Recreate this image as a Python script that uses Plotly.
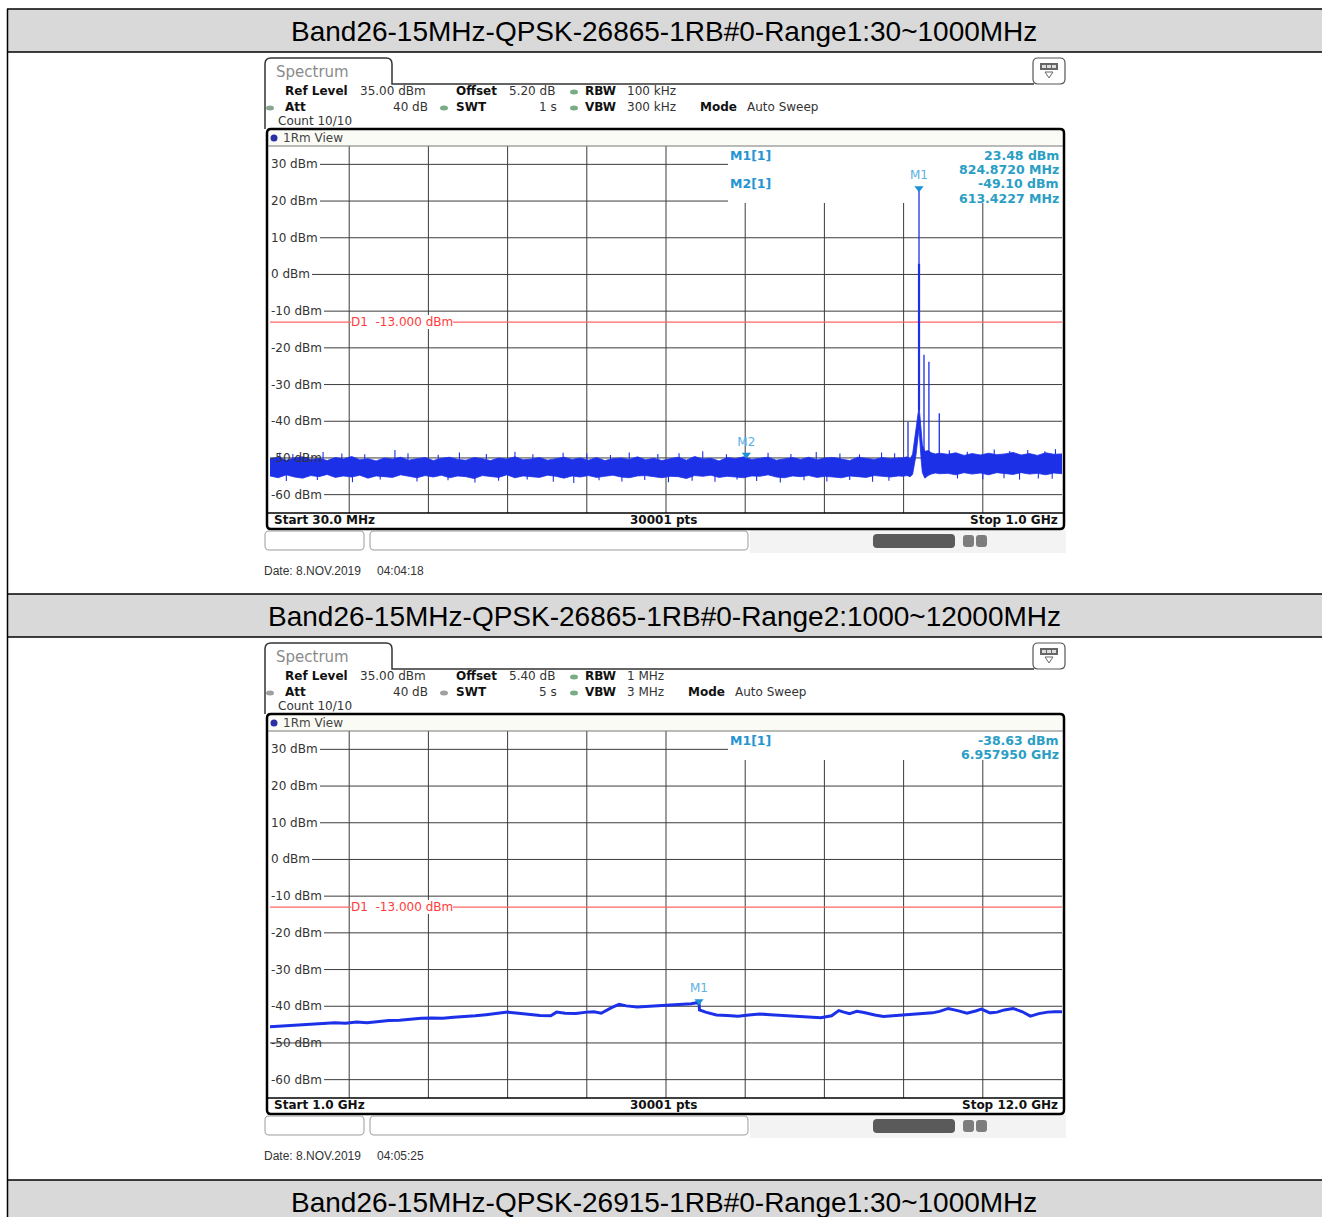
import plotly.graph_objects as go

W, H = 1322, 1217

# ---------------- data ----------------
section_titles = [
    "Band26-15MHz-QPSK-26865-1RB#0-Range1:30~1000MHz",
    "Band26-15MHz-QPSK-26865-1RB#0-Range2:1000~12000MHz",
    "Band26-15MHz-QPSK-26915-1RB#0-Range1:30~1000MHz",
]
level_ticks = [30, 20, 10, 0, -10, -20, -30, -40, -50, -60]
level_tick_text = [f"{v} dBm" for v in level_ticks]
level_range = [-65, 35]
limit_level = -13.0
limit_label = "D1\u00a0\u00a0-13.000 dBm"

# Range 1: 30 MHz .. 1 GHz (MHz)
r1_span = [30, 1000]
r1_grid = [127, 224, 321, 418, 515, 612, 709, 806, 903]
noise1_f = (list(range(30, 801, 10))
            + [805, 810, 814, 817, 819, 821, 822.5, 823.8, 824.9, 826, 827.5, 829, 832, 836, 840, 845, 850]
            + list(range(860, 1001, 10)))
noise1_hi = [
    -50.2, -49.8, -50.6, -50.0, -49.7, -50.4, -50.1, -50.7, -49.9, -50.3,
    -49.6, -50.5, -50.2, -50.8, -50.0, -50.3, -49.8, -50.6, -50.2, -49.9,
    -50.7, -50.1, -49.8, -50.4, -50.6, -49.9, -50.2, -50.7, -50.0, -50.3,
    -49.7, -50.5, -50.3, -49.9, -50.6, -50.1, -49.8, -50.4, -50.0, -50.6,
    -49.9, -50.7, -50.2, -50.0, -50.4, -49.7, -50.5, -50.1, -50.7, -50.2,
    -49.8, -50.6, -49.6, -50.3, -50.1, -50.8, -49.9, -50.2, -49.7, -50.4,
    -50.1, -49.8, -50.6, -50.2, -49.9, -50.4, -49.8, -50.5, -50.0, -49.9,
    -50.3, -50.7, -49.8, -50.1, -50.4, -49.9, -50.2, -50.0,
    -50.0, -49.7, -50.2, -49.0, -45.5, -42.0, -39.5, -37.0, -36.0, -38.5,
    -43.0, -46.5, -48.2, -48.0, -48.6, -48.9, -48.7,
    -49.0, -48.6, -49.3, -48.8, -49.2, -48.7, -49.1, -48.9, -48.5, -49.2,
    -48.8, -49.3, -48.6, -49.0, -48.9,
]
noise1_lo = [
    -54.9, -55.4, -54.6, -55.2, -55.5, -54.8, -55.1, -54.5, -55.3, -54.9,
    -55.2, -54.7, -55.5, -54.9, -55.1, -55.3, -54.6, -55.0, -55.4, -54.8,
    -55.2, -54.7, -55.4, -54.9, -55.1, -55.6, -54.8, -55.0, -55.3, -54.6,
    -55.4, -54.9, -55.2, -55.3, -54.7, -55.0, -55.5, -54.9, -55.2, -54.8,
    -55.3, -55.0, -54.7, -55.2, -55.4, -54.9, -54.8, -55.1, -55.4, -55.0,
    -55.1, -55.6, -54.8, -55.0, -54.7, -55.3, -55.0, -55.2, -55.4, -54.9,
    -55.0, -54.6, -55.2, -55.4, -54.9, -55.1, -54.8, -55.3, -55.0, -55.2,
    -55.4, -54.9, -55.1, -55.3, -54.8, -55.0, -55.2, -54.9,
    -55.0, -54.8, -55.1, -54.5, -52.0, -49.5, -47.0, -44.0, -42.0, -46.0,
    -50.5, -54.0, -55.5, -54.8, -54.4, -54.1, -54.3,
    -54.2, -54.6, -54.0, -54.4, -54.1, -54.6, -54.0, -54.3, -54.5, -54.0,
    -54.4, -54.2, -54.6, -54.1, -54.3,
]
# noise peaks sticking out of the band
whisk_up_f = [42, 58, 77, 95, 118, 146, 183, 199, 236, 262, 295, 330, 352, 389, 418, 447, 470, 505,
              531, 560, 589, 613.4, 640, 668, 699, 728, 752, 779, 795, 862, 884, 917, 936, 958, 979, 992]
whisk_up_top = [-48.6, -48.9, -49.2, -48.4, -48.8, -49.0, -47.8, -48.7, -49.1, -48.5, -48.9, -48.3,
                -49.0, -48.6, -48.8, -49.2, -48.5, -48.9, -48.7, -48.2, -49.0, -49.1, -48.6, -48.9,
                -48.4, -48.8, -49.0, -48.5, -48.7, -47.9, -48.3, -47.7, -48.1, -47.8, -48.2, -47.6]
whisk_dn_f = [50, 88, 131, 165, 210, 248, 281, 310, 345, 377, 402, 433, 461, 489, 518, 547, 575, 602,
              626, 655, 684, 712, 740, 768, 788, 872, 903, 929, 948, 971, 988]
whisk_dn_bot = [-56.3, -56.0, -56.6, -55.9, -56.4, -56.1, -56.7, -56.2, -55.9, -56.5, -56.8, -56.1,
                -56.4, -56.0, -56.6, -56.2, -56.5, -55.9, -56.3, -56.7, -56.1, -56.4, -56.0, -56.5,
                -56.2, -55.6, -55.8, -55.5, -55.9, -55.6, -55.7]
spur1_f = [811.4, 831.0, 837.0, 849.7]
spur1_top = [-40.2, -21.9, -23.8, -37.8]
spur1_base = -50.5
carrier1_f = 824.872
carrier1_base = -37.0
carrier1_shoulder = 3.0
carrier1_peak = 23.48
marker1_f = [824.872, 613.4227]
marker1_lvl = [23.48, -49.10]
marker1_name = ["M1", "M2"]
marker1_info = [("M1[1]", "23.48 dBm", "824.8720 MHz"), ("M2[1]", "-49.10 dBm", "613.4227 MHz")]

# Range 2: 1 GHz .. 12 GHz (GHz)
r2_span = [1, 12]
r2_grid = [2.1, 3.2, 4.3, 5.4, 6.5, 7.6, 8.7, 9.8, 10.9]
trace2_f = [1.00, 1.15, 1.30, 1.45, 1.60, 1.75, 1.90, 2.05, 2.20, 2.35, 2.50, 2.65, 2.80, 2.95,
            3.10, 3.25, 3.40, 3.55, 3.70, 3.85, 4.00, 4.15, 4.30, 4.45, 4.60, 4.75, 4.90, 4.98,
            5.10, 5.25, 5.40, 5.50, 5.60, 5.75, 5.85, 5.95, 6.10, 6.25, 6.40, 6.55, 6.70, 6.85,
            6.958, 6.965, 7.05, 7.20, 7.35, 7.50, 7.65, 7.80, 7.95, 8.10, 8.25, 8.40, 8.55, 8.65,
            8.80, 8.90, 8.97, 9.05, 9.15, 9.25, 9.40, 9.52, 9.65, 9.80, 9.95, 10.10, 10.20, 10.30,
            10.42, 10.55, 10.68, 10.80, 10.88, 11.00, 11.10, 11.20, 11.32, 11.45, 11.56, 11.68,
            11.80, 11.90, 12.00]
trace2_lvl = [-45.6, -45.4, -45.3, -45.0, -44.7, -44.6, -44.5, -44.6, -44.3, -44.5, -44.2, -43.9, -43.8, -43.5,
              -43.3, -43.2, -43.3, -43.0, -42.9, -42.6, -42.3, -42.0, -41.6, -41.9, -42.3, -42.5, -42.6, -41.6,
              -41.9, -42.0, -41.6, -41.5, -41.9, -40.3, -39.5, -39.9, -40.2, -40.0, -39.9, -39.7, -39.5, -39.3,
              -38.9, -41.0, -41.6, -42.4, -42.5, -42.7, -42.4, -42.1, -42.3, -42.5, -42.6, -42.8, -43.0, -43.1,
              -42.6, -41.2, -41.6, -42.0, -41.4, -41.7, -42.4, -42.8, -42.6, -42.4, -42.3, -42.0, -41.8, -41.4,
              -40.6, -41.2, -41.9, -41.3, -40.8, -41.8, -41.6, -41.0, -40.6, -41.5, -42.7, -42.0,
              -41.6, -41.5, -41.5]
marker2_f = [6.95795]
marker2_lvl = [-38.63]
marker2_name = ["M1"]
marker2_info = [("M1[1]", "-38.63 dBm", "6.957950 GHz")]

settings = [
    dict(offset="5.20 dB", rbw="100 kHz", swt="1 s", vbw="300 kHz", mode_x=700,
         start="Start 30.0 MHz", stop="Stop 1.0 GHz", date="Date: 8.NOV.2019", time="04:04:18"),
    dict(offset="5.40 dB", rbw="1 MHz", swt="5 s", vbw="3 MHz", mode_x=688,
         start="Start 1.0 GHz", stop="Stop 12.0 GHz", date="Date: 8.NOV.2019", time="04:05:25"),
]

# ---------------- helpers ----------------
def X(p):
    return p / W


def Y(p):
    return 1 - p / H


shapes = []
annotations = []
TRACE_BLUE = "rgb(28,48,232)"
MK_BLUE = "#1d8fd6"
INFO_LBL = "#2594d2"
INFO_VAL = "#2a9ec4"
GRID = "#3c3c3c"
SANS = "DejaVu Sans"
PLOT_L, PLOT_R = 270, 1062
BOX_L = 728


def hline(x0, x1, y, color, width, layer="above"):
    shapes.append(dict(type="line", xref="paper", yref="paper", x0=X(x0), x1=X(x1), y0=Y(y), y1=Y(y),
                       line=dict(color=color, width=width), layer=layer))


def vline(x, y0, y1, color, width, layer="above"):
    shapes.append(dict(type="line", xref="paper", yref="paper", x0=X(x), x1=X(x), y0=Y(y0), y1=Y(y1),
                       line=dict(color=color, width=width), layer=layer))


def rect(x0, y0, x1, y1, fill, layer="above", lc="rgba(0,0,0,0)", lw=0, opacity=1):
    shapes.append(dict(type="rect", xref="paper", yref="paper", x0=X(x0), x1=X(x1), y0=Y(y1), y1=Y(y0),
                       fillcolor=fill, line=dict(color=lc, width=lw), layer=layer, opacity=opacity))


def rrect(x0, y0, x1, y1, r, lc="#000", lw=1, fill="rgba(0,0,0,0)", layer="above", opacity=1):
    def p(x, y):
        return f"{X(x):.6f},{Y(y):.6f}"
    path = (f"M {p(x0 + r, y0)} L {p(x1 - r, y0)} Q {p(x1, y0)} {p(x1, y0 + r)} "
            f"L {p(x1, y1 - r)} Q {p(x1, y1)} {p(x1 - r, y1)} L {p(x0 + r, y1)} "
            f"Q {p(x0, y1)} {p(x0, y1 - r)} L {p(x0, y0 + r)} Q {p(x0, y0)} {p(x0 + r, y0)} Z")
    shapes.append(dict(type="path", xref="paper", yref="paper", path=path, fillcolor=fill,
                       line=dict(color=lc, width=lw), layer=layer, opacity=opacity))


def dot(cx, cy, rx, ry, color):
    shapes.append(dict(type="circle", xref="paper", yref="paper", x0=X(cx - rx), x1=X(cx + rx),
                       y0=Y(cy + ry), y1=Y(cy - ry), fillcolor=color, line=dict(width=0)))


def text(x, y, s, size=12, color="#333", family=SANS, xanchor="left", bold=False, **kw):
    annotations.append(dict(xref="paper", yref="paper", x=X(x), y=Y(y),
                            text=f"<b>{s}</b>" if bold else s, showarrow=False,
                            xanchor=xanchor, yanchor="middle", borderpad=0, borderwidth=0,
                            font=dict(size=size, color=color, family=family), **kw))


# ---------------- document table ----------------
for top, bot in [(9, 52), (594, 637), (1180, 1230)]:
    rect(8, top, 1322, bot, "#d9d9d9", layer="below")
for yy in [9, 52, 594, 637, 1180]:
    hline(7, 1322, yy, "#000", 1.5)
vline(7.5, 9, 1217, "#000", 1.5)
for yy, t in zip([31, 616, 1202], section_titles):
    text(664, yy, t, size=28, color="#000", family="Liberation Sans", xanchor="center")


# ---------------- analyzer panels ----------------
def panel(dy, xref, yref, st, minfo, box_bottom, grid, span):
    top_px, bot_px = 146 + dy, 513 + dy

    def p(x, y):
        return f"{X(x):.6f},{Y(y + dy):.6f}"
    path = (f"M {p(265, 129)} L {p(265, 64)} Q {p(265, 58)} {p(271, 58)} L {p(386, 58)} "
            f"Q {p(392, 58)} {p(392, 64)} L {p(392, 84)} L {p(1034, 84)}")
    shapes.append(dict(type="path", xref="paper", yref="paper", path=path,
                       line=dict(color="#333", width=1.5), fillcolor="rgba(0,0,0,0)"))
    text(276, 72 + dy, "Spectrum", size=15, color="#8a8a8a")
    # icon
    rrect(1033, 58 + dy, 1065, 84 + dy, 5, lc="#555", lw=1.2, fill="white")
    rect(1040, 63 + dy, 1058, 70 + dy, "#666")
    rect(1042, 65 + dy, 1046, 68 + dy, "#ddd")
    rect(1047, 65 + dy, 1051, 68 + dy, "#ddd")
    rect(1052, 65 + dy, 1056, 68 + dy, "#ddd")
    shapes.append(dict(type="path", xref="paper", yref="paper",
                       path=f"M {p(1045, 72)} L {p(1053, 72)} L {p(1049, 78)} Z",
                       line=dict(color="#666", width=1), fillcolor="white"))

    # settings lines
    fs = 12
    text(285, 91 + dy, "Ref Level", fs, "#111", bold=True)
    text(360, 91 + dy, "35.00 dBm", fs)
    text(456, 91 + dy, "Offset", fs, "#111", bold=True)
    text(509, 91 + dy, st["offset"], fs)
    dot(574, 92 + dy, 4, 2.5, "#7bab84")
    text(585, 91 + dy, "RBW", fs, "#111", bold=True)
    text(627, 91 + dy, st["rbw"], fs)
    dot(270, 108 + dy, 4, 2.5, "#8aa690" if dy == 0 else "#a0a0a0")
    text(285, 107 + dy, "Att", fs, "#111", bold=True)
    text(428, 107 + dy, "40 dB", fs, xanchor="right")
    dot(444, 108 + dy, 4, 2.5, "#7bab84" if dy == 0 else "#a0a0a0")
    text(456, 107 + dy, "SWT", fs, "#111", bold=True)
    text(557, 107 + dy, st["swt"], fs, xanchor="right")
    dot(574, 108 + dy, 4, 2.5, "#7bab84")
    text(585, 107 + dy, "VBW", fs, "#111", bold=True)
    text(627, 107 + dy, st["vbw"], fs)
    text(st["mode_x"], 107 + dy, "Mode", fs, "#111", bold=True)
    text(st["mode_x"] + 47, 107 + dy, "Auto Sweep", fs)
    text(278, 121 + dy, "Count 10/10", fs)

    # window frame
    rect(268, 130 + dy, 1063, 146 + dy, "#fbfbf6", layer="below")
    rrect(267, 129 + dy, 1064, 529 + dy, 4, lc="#000", lw=2.5)
    hline(268, 1063, 146 + dy, "#777", 1)
    hline(268, 1063, 513 + dy, "#000", 1.5)
    dot(274, 138 + dy, 3.5, 3.5, "#2b2fa6")
    text(283, 138 + dy, "1Rm View", 12, "#444")
    text(274, 520 + dy, st["start"], 12, "#111", bold=True)
    text(663, 520 + dy, "30001 pts", 12, "#111", bold=True, xanchor="center")
    text(1058, 520 + dy, st["stop"], 12, "#111", bold=True, xanchor="right")

    # grid (drawn below traces, leaving the marker readout area clear)
    box_xfrac = (BOX_L - PLOT_L) / (PLOT_R - PLOT_L)
    box_yfrac = (bot_px - (box_bottom + dy)) / (bot_px - top_px)
    box_xval = span[0] + box_xfrac * (span[1] - span[0])
    box_level = level_range[0] + box_yfrac * (level_range[1] - level_range[0])
    for g in grid:
        shapes.append(dict(type="line", xref=xref, yref=f"{yref} domain", x0=g, x1=g, y0=0,
                           y1=box_yfrac if g > box_xval else 1.0,
                           line=dict(color=GRID, width=1), layer="below"))
    for v in level_ticks:
        shapes.append(dict(type="line", xref=f"{xref} domain", yref=yref, x0=0,
                           x1=box_xfrac if v > box_level else 1.0, y0=v, y1=v,
                           line=dict(color=GRID, width=1), layer="below"))
    # limit line
    shapes.append(dict(type="line", xref=f"{xref} domain", yref=yref, x0=0, x1=1,
                       y0=limit_level, y1=limit_level, line=dict(color="#ff6464", width=1.2),
                       layer="below"))
    annotations.append(dict(xref=f"{xref} domain", yref=yref, x=0.1, y=limit_level, text=limit_label,
                            showarrow=False, xanchor="left", yanchor="middle", borderpad=0,
                            borderwidth=0, xshift=2, bgcolor="white",
                            font=dict(size=12, color="#ff3b3b", family=SANS)))

    for i, (lbl, lvl, frq) in enumerate(minfo):
        yy = 155 + dy + 29 * i
        text(730, yy, lbl, 12.5, INFO_LBL, bold=True)
        text(1059, yy, lvl, 12.5, INFO_VAL, bold=True, xanchor="right")
        text(1059, yy + 14, frq, 12.5, INFO_VAL, bold=True, xanchor="right")

    # status bar
    rrect(265, 531 + dy, 364, 550 + dy, 4, lc="#9a9a9a", lw=1)
    rrect(370, 531 + dy, 748, 550 + dy, 4, lc="#9a9a9a", lw=1)
    rect(750, 530 + dy, 1066, 553 + dy, "#f3f3f3", layer="below")
    rrect(873, 534 + dy, 955, 548 + dy, 4, lc="rgba(0,0,0,0)", lw=0, fill="#3e3e3e", opacity=0.85)
    rrect(963, 535 + dy, 974, 547 + dy, 3, lc="rgba(0,0,0,0)", lw=0, fill="#555", opacity=0.75)
    rrect(976, 535 + dy, 987, 547 + dy, 3, lc="rgba(0,0,0,0)", lw=0, fill="#555", opacity=0.75)
    text(264, 571 + dy, st["date"], 12, "#333", family="Liberation Sans")
    text(377, 571 + dy, st["time"], 12, "#333", family="Liberation Sans")

    # level labels on the left of the grid
    for v, t in zip(level_ticks, level_tick_text):
        annotations.append(dict(xref=f"{xref} domain", yref=yref, x=0, y=v, text=t, showarrow=False,
                                xanchor="left", yanchor="middle", borderpad=2, borderwidth=0, xshift=-1,
                                bgcolor="white" if v != -50 else "rgba(0,0,0,0)",
                                font=dict(size=12, color="#333", family=SANS)))


panel(0, "x", "y", settings[0], marker1_info, 203, r1_grid, r1_span)
panel(585, "x2", "y2", settings[1], marker2_info, 175, r2_grid, r2_span)

# ---------------- traces ----------------
fig = go.Figure()

# range 1 noise band
fig.add_trace(go.Scatter(x=noise1_f + noise1_f[::-1], y=noise1_hi + noise1_lo[::-1],
                         fill="toself", fillcolor=TRACE_BLUE, mode="lines",
                         line=dict(color=TRACE_BLUE, width=0.8), xaxis="x", yaxis="y",
                         hoverinfo="skip"))
# noise peaks
wx, wy = [], []
for f, t in zip(whisk_up_f, whisk_up_top):
    wx += [f, f, None]
    wy += [-51.0, t, None]
for f, b in zip(whisk_dn_f, whisk_dn_bot):
    wx += [f, f, None]
    wy += [-54.0, b, None]
fig.add_trace(go.Scatter(x=wx, y=wy, mode="lines", line=dict(color=TRACE_BLUE, width=1.1),
                         xaxis="x", yaxis="y", hoverinfo="skip"))
# spurs
sx, sy = [], []
for f, t in zip(spur1_f, spur1_top):
    sx += [f, f, None]
    sy += [spur1_base, t, None]
fig.add_trace(go.Scatter(x=sx, y=sy, mode="lines", line=dict(color=TRACE_BLUE, width=1.3),
                         xaxis="x", yaxis="y", hoverinfo="skip"))
# carrier
fig.add_trace(go.Scatter(x=[carrier1_f, carrier1_f], y=[carrier1_base, carrier1_shoulder], mode="lines",
                         line=dict(color=TRACE_BLUE, width=2.2), xaxis="x", yaxis="y"))
fig.add_trace(go.Scatter(x=[carrier1_f, carrier1_f], y=[carrier1_shoulder, carrier1_peak], mode="lines",
                         line=dict(color=TRACE_BLUE, width=1.3), xaxis="x", yaxis="y"))
# range 2 trace
fig.add_trace(go.Scatter(x=trace2_f, y=trace2_lvl, mode="lines",
                         line=dict(color=TRACE_BLUE, width=3), xaxis="x2", yaxis="y2"))

# markers
for mf, ml, mn, xa, ya in [(marker1_f, marker1_lvl, marker1_name, "x", "y"),
                           (marker2_f, marker2_lvl, marker2_name, "x2", "y2")]:
    fig.add_trace(go.Scatter(x=mf, y=ml, mode="markers+text", text=mn, textposition="top center",
                             marker=dict(symbol="triangle-down", size=8, color=MK_BLUE),
                             textfont=dict(size=12, color="#5cb0e2", family=SANS),
                             cliponaxis=False, xaxis=xa, yaxis=ya))


def xaxis(domain, rng, grid):
    return dict(domain=domain, range=rng, tickvals=grid, showticklabels=False, ticks="",
                showgrid=False, zeroline=False, showline=False, fixedrange=True)


def yaxis(domain, anchor):
    return dict(domain=domain, range=level_range, tickvals=level_ticks, showticklabels=False, ticks="",
                showgrid=False, zeroline=False, showline=False, anchor=anchor, fixedrange=True)


fig.update_layout(
    width=W, height=H, margin=dict(l=0, r=0, t=0, b=0, pad=0),
    paper_bgcolor="white", plot_bgcolor="rgba(0,0,0,0)", showlegend=False,
    xaxis=dict(xaxis([X(PLOT_L), X(PLOT_R)], r1_span, r1_grid), anchor="y"),
    yaxis=yaxis([Y(513), Y(146)], "x"),
    xaxis2=dict(xaxis([X(PLOT_L), X(PLOT_R)], r2_span, r2_grid), anchor="y2"),
    yaxis2=yaxis([Y(1098), Y(731)], "x2"),
    shapes=shapes, annotations=annotations,
)

fig.write_html("out.html", config={"displayModeBar": False},
               post_script="document.body.style.margin='0';document.body.style.overflow='hidden';")
